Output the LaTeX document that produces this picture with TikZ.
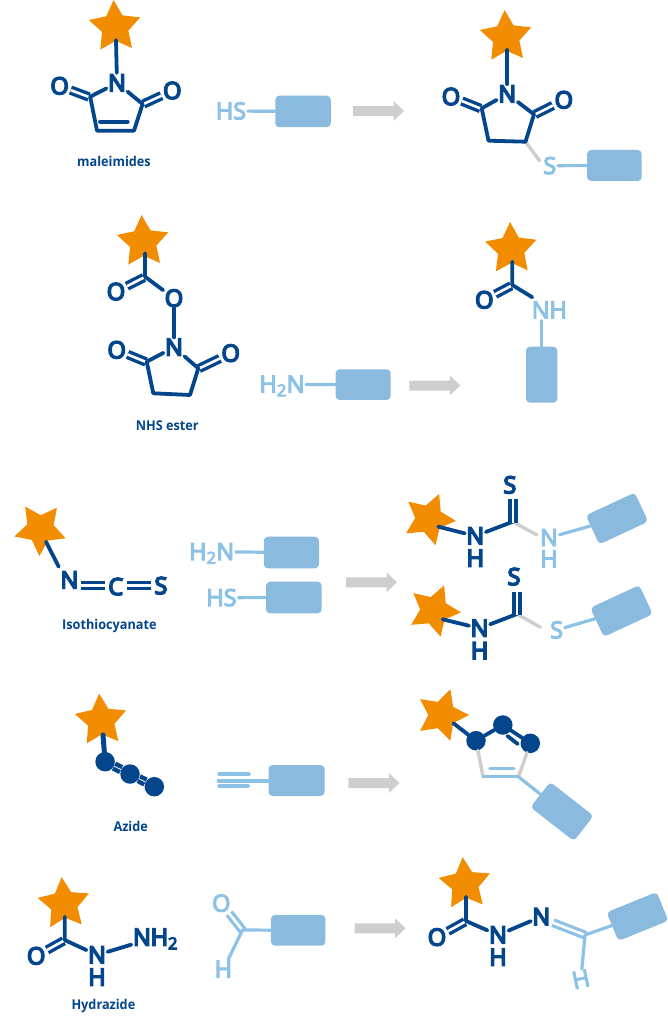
\documentclass[tikz,border=0pt]{standalone}
\usepackage{fontspec}
\setmainfont{Open Sans}
\newfontfamily\atomdark[FakeBold=7]{Open Sans}
\newfontfamily\atomlight[FakeBold=5]{Open Sans}
\newfontfamily\captionfont[FakeStretch=.94]{Open Sans}
\usetikzlibrary{shapes.geometric}
\definecolor{dk}{HTML}{04468C}
\definecolor{lt}{HTML}{8CC2E6}
\definecolor{prot}{HTML}{8ABBDE}
\definecolor{gy}{HTML}{CFCDCD}
\definecolor{orng}{HTML}{F28C00}
\tikzset{
 starnode/.style={shape=star,star points=5,star point ratio=1.95,minimum size=54pt,inner sep=0pt,fill=orng},
 dkatom/.style={text=dk,font=\fontsize{23.5}{23}\selectfont\atomdark,inner sep=1.5pt,text height=16.5pt,text depth=0pt},
 ltatom/.style={text=lt,font=\fontsize{23.5}{23}\selectfont\atomlight,inner sep=1.5pt,text height=16.5pt,text depth=0pt},
 caption/.style={text=dk,font=\fontsize{13.5}{13}\selectfont\captionfont\bfseries,inner sep=0pt},
 dkbond/.style={draw=dk,line width=3.8pt,line cap=round,line join=round},
 ltbond/.style={draw=lt,line width=3.2pt,line cap=round,line join=round},
 gybond/.style={draw=gy,line width=3.4pt,line cap=round,line join=round},
 dkdouble/.style={draw=dk,line width=3.4pt,double=white,double distance=2.6pt,line cap=butt},
 ltdouble/.style={draw=lt,line width=3.2pt,double=white,double distance=2.6pt,line cap=butt},
 protein/.style={fill=prot,rounded corners=4pt,inner sep=0pt},
 dotnode/.style={circle,fill=dk,minimum size=19.5pt,inner sep=0pt},
 band/.style={draw=dk,line width=4.4pt,double=white,double distance=.8pt},
 flow/.pic={\fill[gy] (0,-5)--(40.5,-5)--(40.5,-10)--(51,0)--(40.5,10)--(40.5,5)--(0,5)--cycle;}
}
\begin{document}
\begin{tikzpicture}[x=1pt,y=-1pt]
\useasboundingbox (0,0) rectangle (667,1024);
% ---------- Row 1: reactant
\node[starnode,rotate=3] (s1) at (115,27) {};
\node[dkatom] (n1) at (117,83) {N};
\node[dkatom] (o1a) at (59.6,86) {O};
\node[dkatom] (o1b) at (172.3,90.7) {O};
\coordinate (s1a) at (116,40);
\coordinate (c1a) at (90.2,96.7);
\coordinate (c1b) at (142.6,104);
\coordinate (c1c) at (97,130.7);
\coordinate (c1d) at (134,130.7);
\coordinate (d1a) at (89,97);
\coordinate (d1b) at (143.5,104);
\coordinate (i1a) at (100,121.7);
\coordinate (i1b) at (127.7,121.7);
\draw[dkbond] (s1a) -- (n1);
\draw[dkdouble] (o1a) -- (d1a);
\draw[dkdouble] (o1b) -- (d1b);
\draw[dkbond] (n1) -- (c1a) -- (c1c) -- (c1d) -- (c1b) -- (n1);
\draw[dkbond] (i1a) -- (i1b);
\node[caption] (cap1) at (114,161.7) {maleimides};
% Row 1: partner
\node[ltatom] (hs1) at (231,111) {HS};
\node[protein,minimum width=55.5pt,minimum height=31.5pt] (r1) at (303,111.5) {};
\draw[ltbond] (hs1) -- (r1);
\pic at (353,111) {flow};
% Row 1: product
\node[starnode,rotate=3] (s2) at (506,37) {};
\node[dkatom] (n2) at (507.2,94) {N};
\node[dkatom] (o2a) at (451,96.7) {O};
\node[dkatom] (o2b) at (563.8,100) {O};
\coordinate (s2a) at (507.2,50);
\coordinate (c2a) at (481.7,108.3);
\coordinate (c2b) at (534,114.3);
\coordinate (c2c) at (488.5,140.7);
\coordinate (c2d) at (525.5,141.7);
\coordinate (d2a) at (480.5,108.5);
\coordinate (d2b) at (535,114.5);
\coordinate (g2) at (539.6,160.7);
\draw[dkbond] (s2a) -- (n2);
\draw[dkdouble] (o2a) -- (d2a);
\draw[dkdouble] (o2b) -- (d2b);
\draw[gybond] (c2d) -- (g2);
\draw[dkbond] (n2) -- (c2a) -- (c2c) -- (c2d) -- (c2b) -- (n2);
\node[ltatom] (s2s) at (549.8,165.7) {S};
\node[protein,minimum width=54.5pt,minimum height=31pt] (r2) at (614.4,165.5) {};
\draw[ltbond] (s2s) -- (r2);
% ---------- Row 2: reactant
\node[starnode,rotate=3] (s3) at (143,242) {};
\node[dkatom] (o3a) at (116,291.7) {O};
\node[dkatom] (o3b) at (174,298.3) {O};
\node[dkatom] (n3) at (174,347.3) {N};
\node[dkatom] (o3c) at (116.7,350) {O};
\node[dkatom] (o3d) at (230.7,353.3) {O};
\coordinate (s3a) at (145,253.3);
\coordinate (c3k) at (145,276.7);
\coordinate (d3k) at (144,277.5);
\coordinate (c3a) at (146.7,361.7);
\coordinate (c3b) at (198.3,368.3);
\coordinate (c3c) at (153.3,393.3);
\coordinate (c3d) at (190,395);
\coordinate (d3a) at (146,362);
\coordinate (d3b) at (199,368.5);
\draw[dkdouble] (o3a) -- (d3k);
\draw[dkbond] (s3a) -- (c3k) -- (o3b);
\draw[dkbond] (o3b) -- (n3);
\draw[dkdouble] (o3c) -- (d3a);
\draw[dkdouble] (o3d) -- (d3b);
\draw[dkbond] (n3) -- (c3a) -- (c3c) -- (c3d) -- (c3b) -- (n3);
\node[caption] (cap2) at (167.3,425.7) {NHS ester};
% Row 2: partner
\node[ltatom] (h2n2) at (282,384.3) {H\textsubscript{2}N};
\node[protein,minimum width=55pt,minimum height=30.7pt] (r3) at (363.2,384.6) {};
\draw[ltbond] (h2n2) -- (r3);
\pic at (409.3,385.5) {flow};
% Row 2: product
\node[starnode,rotate=2] (s4) at (511,249) {};
\node[dkatom] (o4) at (484.3,300) {O};
\coordinate (s4a) at (512.3,261.7);
\coordinate (c4) at (512.3,285);
\coordinate (d4) at (511.3,285.8);
\coordinate (e4) at (532.3,297.3);
\draw[dkdouble] (o4) -- (d4);
\draw[dkbond] (s4a) -- (c4) -- (e4);
\node[ltatom] (nh4) at (549.3,310) {NH};
\node[protein,minimum width=31.3pt,minimum height=56pt] (r4) at (541.7,374.7) {};
\coordinate (n4b) at (541.7,320.7);
\draw[ltbond] (n4b) -- (r4);
% ---------- Row 3: reactant
\node[starnode,rotate=178] (s5) at (40.3,529) {};
\node[dkatom] (n5) at (69.4,580) {N};
\node[dkatom] (c5) at (115.7,586.7) {C};
\node[dkatom] (s5s) at (160.9,585.7) {S};
\coordinate (s5a) at (46,541.7);
\coordinate (e5) at (58.7,566.7);
\coordinate (b5a) at (80.9,585.7);
\coordinate (b5b) at (104.7,585.7);
\coordinate (b5c) at (126.8,585.7);
\coordinate (b5d) at (151,585.7);
\draw[dkbond] (s5a) -- (e5);
\draw[dkdouble] (b5a) -- (b5b);
\draw[dkdouble] (b5c) -- (b5d);
\node[caption] (cap3) at (109.4,626) {Isothiocyanate};
% Row 3: partners
\node[ltatom] (h2n5) at (211.7,551.7) {H\textsubscript{2}N};
\node[protein,minimum width=55.2pt,minimum height=31.6pt] (r5) at (291.4,552.5) {};
\draw[ltbond] (h2n5) -- (r5);
\node[ltatom] (hs5) at (221.5,597.7) {HS};
\node[protein,minimum width=55.7pt,minimum height=31.6pt] (r6) at (293.8,597.5) {};
\draw[ltbond] (hs5) -- (r6);
\pic at (346,582.3) {flow};
% Row 3: product 1
\node[starnode,rotate=-94] (s6) at (429,519) {};
\node[dkatom] (n6) at (475.3,536) {N};
\node[dkatom] (h6) at (475.3,558.3) {H};
\node[dkatom] (s6s) at (509.8,485) {S};
\node[ltatom] (n6l) at (549,537.7) {N};
\node[ltatom] (h6l) at (549,559) {H};
\coordinate (s6a) at (438.3,526.7);
\coordinate (c6) at (512.8,521.7);
\coordinate (d6) at (512.8,522.5);
\coordinate (t6) at (512.8,499.3);
\coordinate (g6) at (537,535);
\draw[dkbond] (s6a) -- (n6);
\draw[gybond] (c6) -- (g6);
\draw[dkbond] (n6) -- (c6);
\draw[dkdouble] (d6) -- (t6);
\node[protein,rotate=25,minimum width=54pt,minimum height=32pt] (r7) at (617,518.5) {};
\draw[ltbond] (n6l) -- (r7);
% Row 3: product 2
\node[starnode,rotate=-94] (s7) at (434,610.5) {};
\node[dkatom] (n7) at (479.6,628.3) {N};
\node[dkatom] (h7) at (479.6,650.7) {H};
\node[dkatom] (s7s) at (514,576.7) {S};
\node[ltatom] (s7l) at (556.6,630) {S};
\coordinate (s7a) at (442.6,619.3);
\coordinate (c7) at (517,614);
\coordinate (d7) at (517,614.8);
\coordinate (t7) at (517,591.7);
\coordinate (g7) at (540.4,627.3);
\draw[dkbond] (s7a) -- (n7);
\draw[gybond] (c7) -- (g7);
\draw[dkbond] (n7) -- (c7);
\draw[dkdouble] (d7) -- (t7);
\node[protein,rotate=25,minimum width=54pt,minimum height=32pt] (r8) at (621.5,611) {};
\draw[ltbond] (s7l) -- (r8);
% ---------- Row 4: reactant
\node[starnode,rotate=4] (s8) at (101,720.5) {};
\node[dotnode] (a8) at (105.1,761.7) {};
\node[dotnode] (b8) at (130,774) {};
\node[dotnode] (c8) at (154.3,786.7) {};
\coordinate (s8a) at (103,735);
\draw[dkbond,line width=5pt] (s8a) -- (a8);
\draw[band] (a8) -- (b8);
\draw[band] (b8) -- (c8);
\node[caption] (cap4) at (130.7,826) {Azide};
% Row 4: partner
\node[protein,minimum width=56pt,minimum height=31pt] (r9) at (296.5,780.5) {};
\coordinate (t9a) at (219.3,774.3);
\coordinate (t9ae) at (248.8,774.3);
\coordinate (t9b) at (218.5,780.5);
\coordinate (t9c) at (219.3,786.3);
\coordinate (t9ce) at (248,786.3);
\draw[ltbond,line width=4pt] (t9a) -- (t9ae);
\draw[ltbond,line width=4pt] (t9b) -- (r9);
\draw[ltbond,line width=4pt] (t9c) -- (t9ce);
\pic at (348.4,783) {flow};
% Row 4: product
\node[starnode,rotate=-90] (s9) at (442,715) {};
\node[dotnode] (a10) at (476,740.7) {};
\node[dotnode] (b10) at (502.8,725) {};
\node[dotnode] (c10) at (530.3,743.3) {};
\coordinate (s9a) at (453.5,723.3);
\coordinate (g10a) at (483,776.7);
\coordinate (g10b) at (518.5,776.7);
\coordinate (i10a) at (507.5,736);
\coordinate (i10b) at (517.7,744);
\coordinate (l10a) at (490,768.3);
\coordinate (l10b) at (513.8,768.3);
\node[protein,rotate=-38,minimum width=55pt,minimum height=32pt] (r10) at (562,811.5) {};
\draw[ltbond] (g10b) -- (r10);
\draw[gybond] (a10) -- (g10a);
\draw[gybond] (c10) -- (g10b);
\draw[ltbond] (g10a) -- (g10b);
\draw[ltbond,line width=3.6pt] (l10a) -- (l10b);
\draw[dkbond] (s9a) -- (a10);
\draw[dkbond] (a10) -- (b10);
\draw[dkbond] (b10) -- (c10);
\draw[dkbond] (i10a) -- (i10b);
% ---------- Row 5: reactant
\node[starnode,rotate=5] (s10) at (64,904) {};
\node[dkatom] (o11) at (36.2,956) {O};
\node[dkatom] (n11) at (97,955) {N};
\node[dkatom] (h11) at (97,977.3) {H};
\node[dkatom] (nh11) at (155.5,937.3) {NH\textsubscript{2}};
\coordinate (s10a) at (64.7,916.7);
\coordinate (c11) at (64.7,940);
\coordinate (d11) at (63.7,940.8);
\draw[dkdouble] (o11) -- (d11);
\draw[dkbond] (s10a) -- (c11) -- (n11);
\draw[dkbond] (n11) -- (nh11);
\node[caption] (cap5) at (103.4,1006) {Hydrazide};
% Row 5: partner
\node[ltatom] (o12) at (221.3,903.3) {O};
\node[ltatom] (h12) at (223.4,969.3) {H};
\node[protein,minimum width=54.5pt,minimum height=30.7pt] (r12) at (298.2,930.3) {};
\coordinate (c12) at (242.5,930);
\coordinate (d12) at (243.1,931);
\draw[ltdouble] (o12) -- (d12);
\draw[ltbond] (h12) -- (c12) -- (r12);
\pic at (354.5,928.3) {flow};
% Row 5: product
\node[starnode,rotate=5] (s11) at (465,884) {};
\node[dkatom] (o13) at (437,937.3) {O};
\node[dkatom] (n13) at (498,935) {N};
\node[dkatom] (h13) at (498,957.3) {H};
\node[dkatom] (m13) at (541.3,916.7) {N};
\node[ltatom,rotate=12] (h13l) at (580.9,979.3) {H};
\coordinate (s11a) at (466,896.7);
\coordinate (c13) at (466,921);
\coordinate (d13) at (465,921.8);
\coordinate (k13) at (585,935);
\coordinate (e13) at (586,935.5);
\coordinate (m13b) at (553,922.7);
\draw[dkdouble] (o13) -- (d13);
\draw[dkbond] (s11a) -- (c13) -- (n13);
\draw[dkbond] (n13) -- (m13);
\draw[ltdouble] (m13b) -- (e13);
\node[protein,rotate=22,minimum width=54pt,minimum height=31pt] (r13) at (637.5,916.5) {};
\draw[ltbond] (h13l) -- (k13) -- (r13);
\end{tikzpicture}
\end{document}
